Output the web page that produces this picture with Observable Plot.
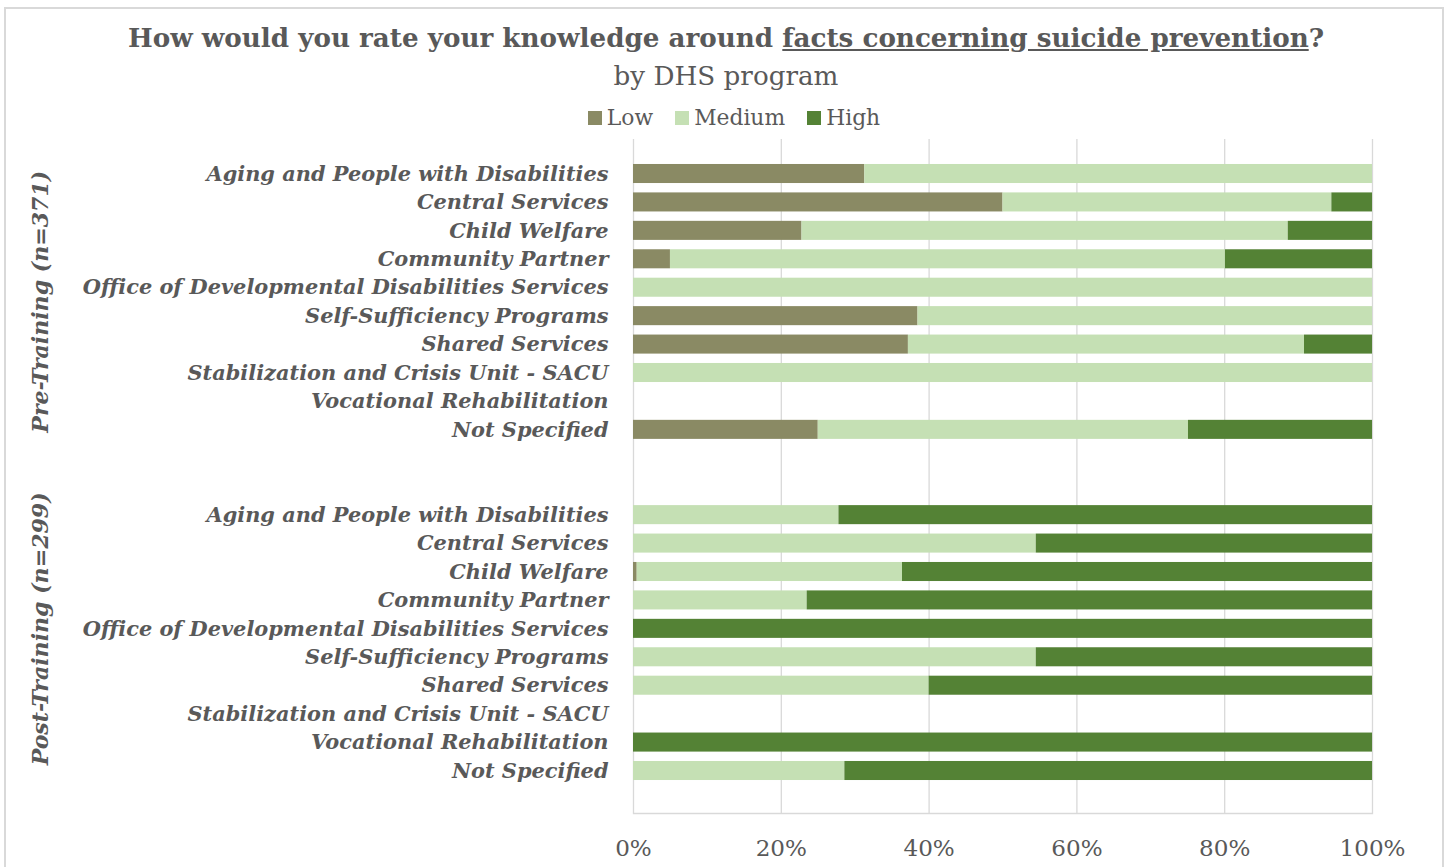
<!DOCTYPE html>
<html>
<head>
<meta charset="utf-8">
<script src="https://cdn.jsdelivr.net/npm/d3@7"></script>
<script src="https://cdn.jsdelivr.net/npm/@observablehq/plot@0.6"></script>
<style>
  html, body { margin: 0; padding: 0; background: #fff; overflow: hidden; }
  body { width: 1452px; height: 867px; position: relative; font-family: "DejaVu Serif", serif; color: #595959; }
  #border { position: absolute; left: 4px; top: 7px; width: 1440px; height: 900px; border: 2px solid #d9d9d9; box-sizing: border-box; }
  #title { position: absolute; left: 0; top: 18px; width: 1452px; text-align: center; font-weight: bold; line-height: 40px; white-space: nowrap; }
  #subtitle { position: absolute; left: 0; top: 58px; width: 1452px; text-align: center; line-height: 36px; white-space: nowrap; }
  #legend { position: absolute; left: 8px; top: 102px; width: 1452px; display: flex; justify-content: center; line-height: 32px; white-space: nowrap; }
  #legend span.item { display: inline-flex; align-items: center; margin: 0 11px; }
  #legend span.sw { display: inline-block; width: 14px; height: 14px; margin-right: 5px; }
  #chart { position: absolute; left: 0; top: 130px; }
</style>
</head>
<body>
<div id="border"></div>
<div id="title">How would you rate your knowledge around <u>facts concerning suicide prevention</u>?</div>
<div id="subtitle">by DHS program</div>
<div id="legend"></div>
<div id="chart"></div>
<script>
// ---- data (percent of respondents) ----
const programs = [
  "Aging and People with Disabilities",
  "Central Services",
  "Child Welfare",
  "Community Partner",
  "Office of Developmental Disabilities Services",
  "Self-Sufficiency Programs",
  "Shared Services",
  "Stabilization and Crisis Unit - SACU",
  "Vocational Rehabilitation",
  "Not Specified"
];
const levels = ["Low", "Medium", "High"];
const levelColors = ["#8a8a64", "#c5e0b4", "#548235"];
const groups = ["Pre-Training (n=371)", "Post-Training (n=299)"];

const preLow    = [31.3, 50.0, 22.8,  5.0,   0, 38.5, 37.2,   0, 0, 25.0];
const preMedium = [68.7, 44.5, 65.8, 75.1, 100, 61.5, 53.6, 100, 0, 50.1];
const preHigh   = [   0,  5.5, 11.4, 19.9,   0,    0,  9.2,   0, 0, 24.9];

const postLow    = [   0,    0,  0.5,    0,   0,    0,    0, 0,   0,    0];
const postMedium = [27.8, 54.5, 35.9, 23.5,   0, 54.5, 40.0, 0,   0, 28.6];
const postHigh   = [72.2, 45.5, 63.6, 76.5, 100, 45.5, 60.0, 0, 100, 71.4];

const xTicks = [0, 20, 40, 60, 80, 100];

// ---- font fitting (match text widths of the reference) ----
const FAMILY = "DejaVu Serif";
const ctx = document.createElement("canvas").getContext("2d");
function fit(text, target, weight = "normal", style = "normal") {
  ctx.font = `${style} ${weight} 100px "${FAMILY}"`;
  return 100 * target / ctx.measureText(text).width;
}
const titleText = "How would you rate your knowledge around facts concerning suicide prevention?";
const titleSize = fit(titleText, 1197, "bold");
const subSize = fit("by DHS program", 225);
const legendSize = fit("Medium", 91);
const labelSize = fit(programs[4], 526, "bold", "italic");
const groupSize = fit(groups[0], 262, "bold", "italic");
const tickSize = fit("100%", 66);

document.getElementById("title").style.fontSize = titleSize + "px";
document.getElementById("subtitle").style.fontSize = subSize + "px";
document.getElementById("legend").style.fontSize = legendSize + "px";

// ---- build table ----
const series = [
  ["Pre", [preLow, preMedium, preHigh]],
  ["Post", [postLow, postMedium, postHigh]]
];
const rows = [];
for (const [g, vals] of series) {
  programs.forEach((p, i) => {
    levels.forEach((lv, j) => {
      const v = vals[j][i];
      if (v > 0) rows.push({key: g + "|" + p, level: lv, value: v});
    });
  });
}
const yDomain = [
  ...programs.map(p => "Pre|" + p),
  "gap|1", "gap|2",
  ...programs.map(p => "Post|" + p)
];

// ---- legend ----
const legend = document.getElementById("legend");
levels.forEach((lv, i) => {
  const s = document.createElement("span");
  s.className = "item";
  s.innerHTML = `<span class="sw" style="background:${levelColors[i]}"></span>${lv}`;
  legend.appendChild(s);
});

const labelFont = {fontFamily: FAMILY, fontStyle: "italic", fontWeight: "bold"};

const chart = Plot.plot({
  width: 1452,
  height: 737,
  marginLeft: 633,
  marginRight: 80,
  marginTop: 9,
  marginBottom: 54,
  insetTop: 15.6,
  insetBottom: 23.6,
  style: {fontFamily: FAMILY, color: "#595959", background: "transparent"},
  x: {domain: [0, 100], ticks: xTicks},
  y: {domain: yDomain, padding: 0.33, align: 0.5, round: false},
  color: {domain: levels, range: levelColors},
  marks: [
    Plot.gridX(xTicks, {stroke: "#d9d9d9", strokeOpacity: 1, strokeWidth: 1.3}),
    Plot.frame({anchor: "bottom", stroke: "#d9d9d9", strokeWidth: 1.3}),
    Plot.barX(rows, Plot.stackX({y: "key", x: "value", fill: "level", order: levels})),
    Plot.axisX(xTicks, {
      tickSize: 0, tickPadding: 26, tickFormat: d => d + "%",
      fontSize: tickSize, fill: "#595959", fontFamily: FAMILY, label: null
    }),
    Plot.axisY({
      tickSize: 0, tickPadding: 25, fontSize: labelSize, fill: "#595959", label: null,
      tickFormat: k => k.startsWith("gap") ? "" : k.split("|")[1],
      ...labelFont
    }),
    Plot.text([groups[0]], {
      y: () => "Pre|" + programs[4], dy: 14, frameAnchor: "left", dx: -593,
      textAnchor: "middle", rotate: -90, fontSize: groupSize, fill: "#595959",
      ...labelFont, text: d => d
    }),
    Plot.text([groups[1]], {
      y: () => "Post|" + programs[4], frameAnchor: "left", dx: -593,
      textAnchor: "middle", rotate: -90, fontSize: groupSize, fill: "#595959",
      ...labelFont, text: d => d
    })
  ]
});
document.getElementById("chart").appendChild(chart);
</script>
</body>
</html>
